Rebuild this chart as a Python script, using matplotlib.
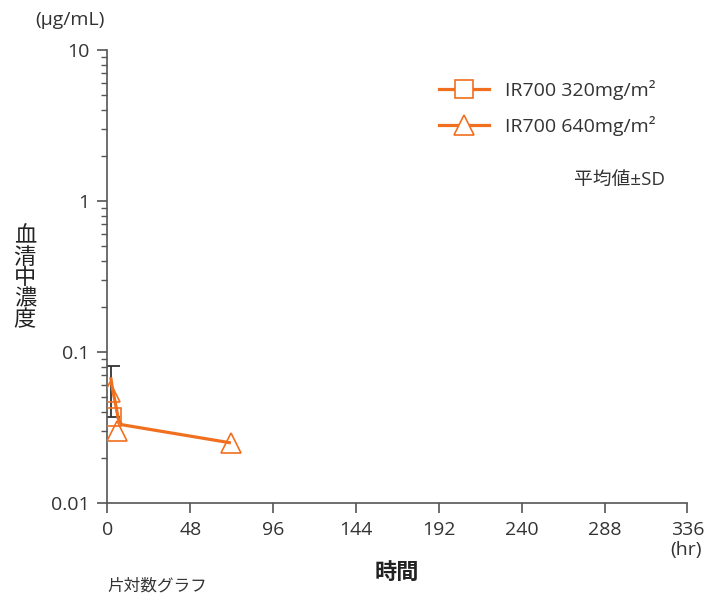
import matplotlib.pyplot as plt
from matplotlib.ticker import LogLocator, NullFormatter, FixedLocator

plt.rcParams['font.family'] = ['Open Sans', 'Noto Sans CJK JP', 'DejaVu Sans']

ORANGE = '#F07020'
GRAY = '#555555'
TXT = '#333333'

# 320 mg/m2 (squares)
t_320 = [2.5]
c_320 = [0.037]

# 640 mg/m2 (triangles)
t_640 = [1.3, 5.7, 71.5]
c_640 = [0.054, 0.030, 0.025]

# error bar (mean ± SD)
t_err = [1.9]
c_err = [0.054]
err_lo = [0.017]
err_hi = [0.027]

# connecting line
t_line = [1.9, 2.8, 4.7, 6.3, 8.2, 71.5]
c_line = [0.068, 0.058, 0.045, 0.036, 0.033, 0.025]

x_ticks = [0, 48, 96, 144, 192, 240, 288, 336]
y_ticks = [0.01, 0.1, 1, 10]
y_labels = ['0.01', '0.1', '1', '10']

fig = plt.figure(figsize=(7.07, 6.0), dpi=100)
ax = fig.add_axes([0.152, 0.1617, 0.8204, 0.755])

ax.errorbar(t_err, c_err, yerr=[err_lo, err_hi], fmt='none', ecolor='#333333',
            elinewidth=1.3, capsize=6.5, capthick=1.3, zorder=2)
ax.plot(t_line, c_line, color=ORANGE, lw=2.3, zorder=3, solid_capstyle='butt')
ax.plot(t_320, c_320, ls='none', marker='s', ms=13.5, mfc='none', mec=ORANGE, mew=1.2, zorder=4)
ax.plot(t_640, c_640, ls='none', marker='^', ms=14, mfc='none', mec=ORANGE, mew=1.2, zorder=4)

ax.set_yscale('log')
ax.set_ylim(0.01, 10)
ax.set_xlim(0, 336)
ax.set_xticks(x_ticks)
ax.set_xticklabels([str(v) for v in x_ticks])
ax.yaxis.set_major_locator(FixedLocator(y_ticks))
ax.set_yticklabels(y_labels)
ax.yaxis.set_minor_locator(LogLocator(base=10, subs=range(2, 10)))
ax.yaxis.set_minor_formatter(NullFormatter())

for s in ['top', 'right']:
    ax.spines[s].set_visible(False)
for s in ['left', 'bottom']:
    ax.spines[s].set_color(GRAY)
    ax.spines[s].set_linewidth(1.2)
ax.tick_params(axis='both', which='major', length=7, width=1.2, color=GRAY,
               labelsize=14, labelcolor=TXT, pad=6)
ax.tick_params(axis='y', which='minor', length=4, width=1.0, color=GRAY)

# legend
l1, = ax.plot([], [], color=ORANGE, lw=2.3, marker='s', ms=13.5, mfc='white', mec=ORANGE, mew=1.2)
l2, = ax.plot([], [], color=ORANGE, lw=2.3, marker='^', ms=14, mfc='white', mec=ORANGE, mew=1.2)
ax.legend([l1, l2], ['IR700 320mg/m²', 'IR700 640mg/m²'], loc='upper left',
          bbox_to_anchor=(0.541, 0.972), frameon=False, fontsize=14, handlelength=2.6,
          handletextpad=0.8, labelspacing=0.8, labelcolor=TXT)

fig.text(0.94, 0.70, '平均値±SD', ha='right', va='center', fontsize=13.5, color=TXT)
fig.text(0.05, 0.966, '(μg/mL)', ha='left', va='center', fontsize=14, color=TXT)
fig.text(0.97, 0.083, '(hr)', ha='center', va='center', fontsize=14, color=TXT)
fig.text(0.562, 0.045, '時間', ha='center', va='center', fontsize=16, fontweight='bold', color='#222222')
fig.text(0.035, 0.535, '血\n清\n中\n濃\n度', ha='center', va='center', fontsize=16,
         color='#222222', linespacing=1.0)
fig.text(0.152, 0.022, '片対数グラフ', ha='left', va='center', fontsize=12, color=TXT)

fig.savefig('out.png', dpi=100)
